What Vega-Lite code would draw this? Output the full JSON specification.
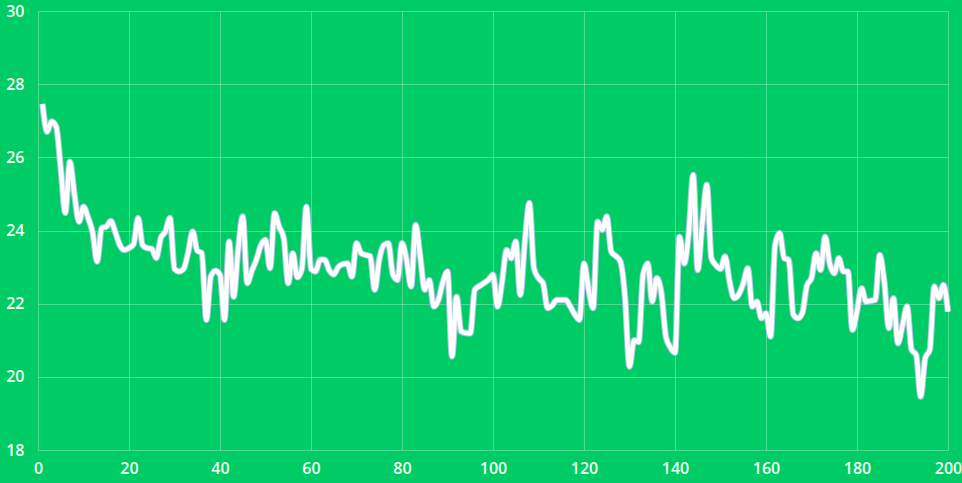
{
  "$schema": "https://vega.github.io/schema/vega-lite/v6.json",
  "autosize": {"type": "none"},
  "width": 910,
  "height": 439,
  "padding": {"left": 38, "top": 11, "right": 14, "bottom": 33},
  "background": "#00CC66",
  "config": {
    "view": {"stroke": null},
    "axis": {
      "labelColor": "#F0FFF4",
      "labelFont": "Open Sans",
      "labelFontSize": 16,
      "labelFontWeight": 600,
      "gridColor": "#FFFFFF",
      "gridOpacity": 0.3,
      "gridWidth": 1,
      "domain": false,
      "ticks": false,
      "title": null
    }
  },
  "data": {
    "values": [
      {"x":1,"y":27.46},{"x":2,"y":26.7},{"x":3,"y":26.98},{"x":4,"y":26.84},{"x":5,"y":25.7},
      {"x":6,"y":24.48},{"x":7,"y":25.88},{"x":8,"y":25.0},{"x":9,"y":24.24},{"x":10,"y":24.65},
      {"x":11,"y":24.35},{"x":12,"y":23.95},{"x":13,"y":23.15},{"x":14,"y":24.07},{"x":15,"y":24.1},
      {"x":16,"y":24.26},{"x":17,"y":23.95},{"x":18,"y":23.6},{"x":19,"y":23.47},{"x":20,"y":23.52},
      {"x":21,"y":23.62},{"x":22,"y":24.34},{"x":23,"y":23.6},{"x":24,"y":23.52},{"x":25,"y":23.5},
      {"x":26,"y":23.25},{"x":27,"y":23.8},{"x":28,"y":23.97},{"x":29,"y":24.34},{"x":30,"y":22.95},
      {"x":31,"y":22.88},{"x":32,"y":22.95},{"x":33,"y":23.4},{"x":34,"y":23.97},{"x":35,"y":23.45},
      {"x":36,"y":23.38},{"x":37,"y":21.56},{"x":38,"y":22.75},{"x":39,"y":22.9},{"x":40,"y":22.79},
      {"x":41,"y":21.56},{"x":42,"y":23.7},{"x":43,"y":22.19},{"x":44,"y":23.5},{"x":45,"y":24.38},
      {"x":46,"y":22.56},{"x":47,"y":22.9},{"x":48,"y":23.2},{"x":49,"y":23.6},{"x":50,"y":23.75},
      {"x":51,"y":22.97},{"x":52,"y":24.47},{"x":53,"y":24.1},{"x":54,"y":23.8},{"x":55,"y":22.56},
      {"x":56,"y":23.38},{"x":57,"y":22.72},{"x":58,"y":22.95},{"x":59,"y":24.65},{"x":60,"y":22.95},
      {"x":61,"y":22.88},{"x":62,"y":23.2},{"x":63,"y":23.2},{"x":64,"y":22.92},{"x":65,"y":22.8},
      {"x":66,"y":23.0},{"x":67,"y":23.08},{"x":68,"y":23.1},{"x":69,"y":22.74},{"x":70,"y":23.65},
      {"x":71,"y":23.38},{"x":72,"y":23.33},{"x":73,"y":23.3},{"x":74,"y":22.38},{"x":75,"y":23.2},
      {"x":76,"y":23.6},{"x":77,"y":23.65},{"x":78,"y":22.8},{"x":79,"y":22.65},{"x":80,"y":23.65},
      {"x":81,"y":23.2},{"x":82,"y":22.47},{"x":83,"y":24.15},{"x":84,"y":23.3},{"x":85,"y":22.38},
      {"x":86,"y":22.65},{"x":87,"y":21.92},{"x":88,"y":22.1},{"x":89,"y":22.6},{"x":90,"y":22.88},
      {"x":91,"y":20.56},{"x":92,"y":22.19},{"x":93,"y":21.24},{"x":94,"y":21.2},{"x":95,"y":21.19},
      {"x":96,"y":22.38},{"x":97,"y":22.48},{"x":98,"y":22.56},{"x":99,"y":22.65},{"x":100,"y":22.79},
      {"x":101,"y":21.92},{"x":102,"y":22.6},{"x":103,"y":23.47},{"x":104,"y":23.24},{"x":105,"y":23.7},
      {"x":106,"y":22.24},{"x":107,"y":23.7},{"x":108,"y":24.75},{"x":109,"y":22.97},{"x":110,"y":22.7},
      {"x":111,"y":22.56},{"x":112,"y":21.88},{"x":113,"y":21.95},{"x":114,"y":22.1},{"x":115,"y":22.1},
      {"x":116,"y":22.1},{"x":117,"y":21.92},{"x":118,"y":21.7},{"x":119,"y":21.56},{"x":120,"y":23.1},
      {"x":121,"y":22.4},{"x":122,"y":21.88},{"x":123,"y":24.24},{"x":124,"y":24.02},{"x":125,"y":24.38},
      {"x":126,"y":23.42},{"x":127,"y":23.3},{"x":128,"y":23.15},{"x":129,"y":22.2},{"x":130,"y":20.28},
      {"x":131,"y":21.0},{"x":132,"y":20.95},{"x":133,"y":22.8},{"x":134,"y":23.1},{"x":135,"y":22.06},
      {"x":136,"y":22.7},{"x":137,"y":22.3},{"x":138,"y":21.1},{"x":139,"y":20.8},{"x":140,"y":20.66},
      {"x":141,"y":23.83},{"x":142,"y":23.1},{"x":143,"y":23.9},{"x":144,"y":25.52},{"x":145,"y":22.92},
      {"x":146,"y":24.2},{"x":147,"y":25.25},{"x":148,"y":23.24},{"x":149,"y":23.05},{"x":150,"y":22.95},
      {"x":151,"y":23.29},{"x":152,"y":22.6},{"x":153,"y":22.15},{"x":154,"y":22.25},{"x":155,"y":22.55},
      {"x":156,"y":22.97},{"x":157,"y":21.92},{"x":158,"y":22.06},{"x":159,"y":21.6},{"x":160,"y":21.74},
      {"x":161,"y":21.1},{"x":162,"y":23.6},{"x":163,"y":23.93},{"x":164,"y":23.24},{"x":165,"y":23.2},
      {"x":166,"y":21.7},{"x":167,"y":21.6},{"x":168,"y":21.75},{"x":169,"y":22.5},{"x":170,"y":22.7},
      {"x":171,"y":23.38},{"x":172,"y":22.92},{"x":173,"y":23.83},{"x":174,"y":23.1},{"x":175,"y":22.83},
      {"x":176,"y":23.24},{"x":177,"y":22.88},{"x":178,"y":22.88},{"x":179,"y":21.28},{"x":180,"y":21.8},
      {"x":181,"y":22.42},{"x":182,"y":22.05},{"x":183,"y":22.08},{"x":184,"y":22.1},{"x":185,"y":23.33},
      {"x":186,"y":22.6},{"x":187,"y":21.33},{"x":188,"y":22.15},{"x":189,"y":20.92},{"x":190,"y":21.4},
      {"x":191,"y":21.92},{"x":192,"y":20.74},{"x":193,"y":20.6},{"x":194,"y":19.46},{"x":195,"y":20.51},
      {"x":196,"y":20.74},{"x":197,"y":22.47},{"x":198,"y":22.15},{"x":199,"y":22.51},{"x":200,"y":21.78}
    ]
  },
  "encoding": {
    "x": {
      "field": "x", "type": "quantitative",
      "scale": {"domain": [0, 200], "nice": false},
      "axis": {"values": [0, 20, 40, 60, 80, 100, 120, 140, 160, 180, 200], "labelPadding": 10, "labelFlush": false}
    },
    "y": {
      "field": "y", "type": "quantitative",
      "scale": {"domain": [18, 30], "nice": false, "zero": false},
      "axis": {"values": [18, 20, 22, 24, 26, 28, 30], "labelPadding": 14, "labelAlign": "right", "labelFlush": false}
    }
  },
  "layer": [
    {"mark": {"type": "line", "color": "#B9C6F2", "strokeWidth": 6.5, "interpolate": "monotone", "opacity": 0.9}},
    {"mark": {"type": "line", "color": "#FFFFFF", "strokeWidth": 4.5, "interpolate": "monotone"}}
  ]
}
